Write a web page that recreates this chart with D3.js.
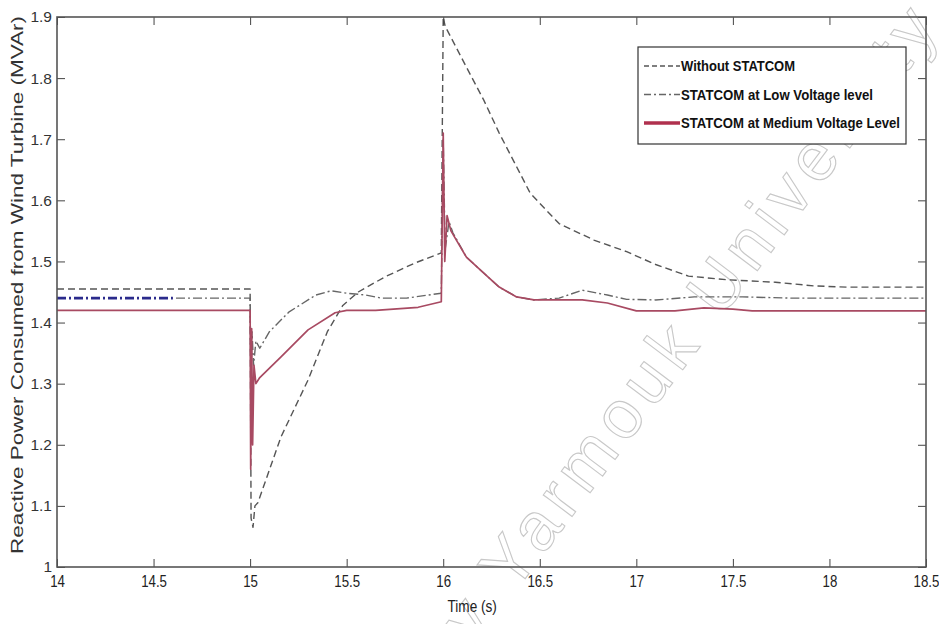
<!DOCTYPE html>
<html>
<head>
<meta charset="utf-8">
<script src="https://cdn.jsdelivr.net/npm/d3@7"></script>
<style>
  body { margin: 0; background: #fff; }
  svg { display: block; }
</style>
</head>
<body>
<script>
// series: [time (s), MVAr]
const withoutStatcom = [
  [14, 1.455], [15.0, 1.455], [15.005, 1.08], [15.015, 1.065], [15.025, 1.10], [15.04, 1.105],
  [15.16, 1.213], [15.30, 1.306], [15.40, 1.385], [15.48, 1.428], [15.56, 1.450], [15.70, 1.475],
  [15.85, 1.497], [15.99, 1.514], [16.0, 1.90], [16.01, 1.885], [16.12, 1.818], [16.21, 1.764],
  [16.29, 1.710], [16.38, 1.655], [16.45, 1.612], [16.53, 1.585], [16.6, 1.562], [16.78, 1.535],
  [16.95, 1.516], [17.1, 1.495], [17.27, 1.476], [17.47, 1.470], [17.72, 1.466], [17.92, 1.460],
  [18.09, 1.458], [18.5, 1.458]
];
const statcomLow = [
  [14, 1.44], [15.0, 1.44], [15.004, 1.30], [15.01, 1.385], [15.018, 1.33], [15.03, 1.37],
  [15.05, 1.358], [15.1, 1.385], [15.2, 1.417], [15.34, 1.445], [15.42, 1.452], [15.5, 1.448],
  [15.6, 1.445], [15.68, 1.44], [15.81, 1.44], [15.99, 1.448], [16.0, 1.70], [16.01, 1.52],
  [16.03, 1.565], [16.05, 1.547], [16.12, 1.507], [16.21, 1.481], [16.29, 1.458], [16.38, 1.442],
  [16.47, 1.437], [16.6, 1.44], [16.72, 1.453], [16.85, 1.445], [16.95, 1.438], [17.1, 1.437],
  [17.3, 1.442], [17.55, 1.442], [17.8, 1.44], [18.5, 1.44]
];
const statcomMedium = [
  [14, 1.42], [15.0, 1.42], [15.003, 1.16], [15.008, 1.39], [15.013, 1.2], [15.02, 1.33],
  [15.03, 1.30], [15.05, 1.31], [15.16, 1.344], [15.30, 1.388], [15.44, 1.416], [15.5, 1.42],
  [15.65, 1.42], [15.87, 1.425], [15.99, 1.434], [16.0, 1.71], [16.008, 1.50], [16.02, 1.575],
  [16.04, 1.55], [16.12, 1.507], [16.21, 1.481], [16.29, 1.458], [16.38, 1.442], [16.47, 1.437],
  [16.72, 1.437], [16.85, 1.432], [17.0, 1.419], [17.2, 1.419], [17.35, 1.424], [17.5, 1.422],
  [17.6, 1.419], [18.5, 1.419]
];
// blue dash-dot piece visible at the start of the low voltage trace
const lowOverlay = [[14, 1.44], [14.6, 1.44]];

const xTicks = [14, 14.5, 15, 15.5, 16, 16.5, 17, 17.5, 18, 18.5];
const yTicks = [1, 1.1, 1.2, 1.3, 1.4, 1.5, 1.6, 1.7, 1.8, 1.9];
const legendLabels = ['Without STATCOM', 'STATCOM at Low Voltage level', 'STATCOM at Medium Voltage Level'];
const legendWidths = [114, 192, 219];

const box = { width: 939, height: 624, left: 57, right: 926, top: 17, bottom: 567 };
const sans = '"Liberation Sans", Arial, sans-serif';

const svg = d3.select('body').append('svg')
  .attr('width', box.width)
  .attr('height', box.height);

const x = d3.scaleLinear().domain([14, 18.5]).range([box.left, box.right]);
const y = d3.scaleLinear().domain([1, 1.9]).range([box.bottom, box.top]);

// watermark
svg.append('text')
  .attr('transform', 'translate(458,668) rotate(-53)')
  .attr('font-family', sans)
  .attr('font-size', 68)
  .attr('fill', 'none')
  .attr('stroke', '#c8c8c8')
  .attr('stroke-width', 1.1)
  .attr('textLength', 800).attr('lengthAdjust', 'spacing')
  .text('ty Yarmouk University');

svg.append('defs').append('clipPath').attr('id', 'clip')
  .append('rect')
  .attr('x', box.left).attr('y', box.top - 2)
  .attr('width', box.right - box.left).attr('height', box.bottom - box.top + 2);

const line = d3.line().x(d => x(d[0])).y(d => y(d[1]));

const plot = svg.append('g').attr('clip-path', 'url(#clip)');

const series = [
  { data: withoutStatcom, stroke: '#555', width: 1.4, dash: '7,4' },
  { data: statcomLow, stroke: '#666', width: 1.4, dash: '9,3,2,3' },
  { data: statcomMedium, stroke: '#a84a62', width: 1.7, dash: null },
  { data: lowOverlay, stroke: '#2b2b8c', width: 2.6, dash: '9,3,2,3' }
];

plot.selectAll('path.series')
  .data(series)
  .join('path')
  .attr('class', 'series')
  .attr('d', d => line(d.data))
  .attr('fill', 'none')
  .attr('stroke', d => d.stroke)
  .attr('stroke-width', d => d.width)
  .attr('stroke-dasharray', d => d.dash)
  .attr('stroke-linejoin', 'round');

// axes, MATLAB style with inward ticks on all sides
const tick = 8;
const xAxisB = d3.axisBottom(x).tickValues(xTicks).tickSize(-tick).tickPadding(8).tickFormat(d3.format('~g'));
const xAxisT = d3.axisTop(x).tickValues(xTicks).tickSize(-tick).tickFormat('');
const yAxisL = d3.axisLeft(y).tickValues(yTicks).tickSize(-tick).tickPadding(5).tickFormat(d3.format('~g'));
const yAxisR = d3.axisRight(y).tickValues(yTicks).tickSize(-tick).tickFormat('');

function style(g) {
  g.select('.domain').remove();
  g.selectAll('.tick line').attr('stroke', '#444').attr('stroke-width', 1);
}

svg.append('g').attr('transform', `translate(0,${box.bottom})`).call(xAxisB).call(style)
  .selectAll('text')
  .attr('font-family', sans).attr('font-size', 17).attr('fill', '#222')
  .attr('transform', 'scale(0.78,1)');
svg.append('g').attr('transform', `translate(0,${box.top})`).call(xAxisT).call(style);
svg.append('g').attr('transform', `translate(${box.left},0)`).call(yAxisL).call(style)
  .selectAll('text').attr('font-family', sans).attr('font-size', 15.5).attr('fill', '#333');
svg.append('g').attr('transform', `translate(${box.right},0)`).call(yAxisR).call(style);

svg.append('rect')
  .attr('x', box.left).attr('y', box.top)
  .attr('width', box.right - box.left).attr('height', box.bottom - box.top)
  .attr('fill', 'none').attr('stroke', '#555').attr('stroke-width', 1.6);

svg.append('text')
  .attr('transform', `translate(${x(16.15)},612) scale(0.8,1)`)
  .attr('text-anchor', 'middle')
  .attr('font-family', sans).attr('font-size', 17).attr('fill', '#222')
  .text('Time (s)');

svg.append('text')
  .attr('transform', `translate(23,${285}) rotate(-90)`)
  .attr('text-anchor', 'middle')
  .attr('font-family', sans).attr('font-size', 16.5).attr('fill', '#333')
  .attr('textLength', 538).attr('lengthAdjust', 'spacingAndGlyphs')
  .text('Reactive Power Consumed from Wind Turbine (MVAr)');

// legend
const legend = svg.append('g').attr('transform', 'translate(638,47)');
legend.append('rect')
  .attr('width', 268).attr('height', 97)
  .attr('fill', '#fff').attr('stroke', '#333').attr('stroke-width', 1.2);

const legendItems = legend.selectAll('g.item')
  .data(legendLabels.map((label, i) => ({ label, s: series[i], w: legendWidths[i] })))
  .join('g')
  .attr('class', 'item')
  .attr('transform', (d, i) => `translate(0,${19 + i * 28.5})`);

legendItems.append('line')
  .attr('x1', 6).attr('x2', 42)
  .attr('stroke', (d, i) => i === 2 ? '#b0304e' : d.s.stroke)
  .attr('stroke-width', (d, i) => i === 2 ? 3.5 : 1.3)
  .attr('stroke-dasharray', d => d.s.dash ? (d.s.dash === '7,4' ? '5,3' : '7,3,2,3') : null);

legendItems.append('text')
  .attr('x', 43).attr('y', 5)
  .attr('font-family', sans).attr('font-weight', 'bold').attr('font-size', 14)
  .attr('fill', '#111')
  .attr('textLength', d => d.w).attr('lengthAdjust', 'spacingAndGlyphs')
  .text(d => d.label);
</script>
</body>
</html>
